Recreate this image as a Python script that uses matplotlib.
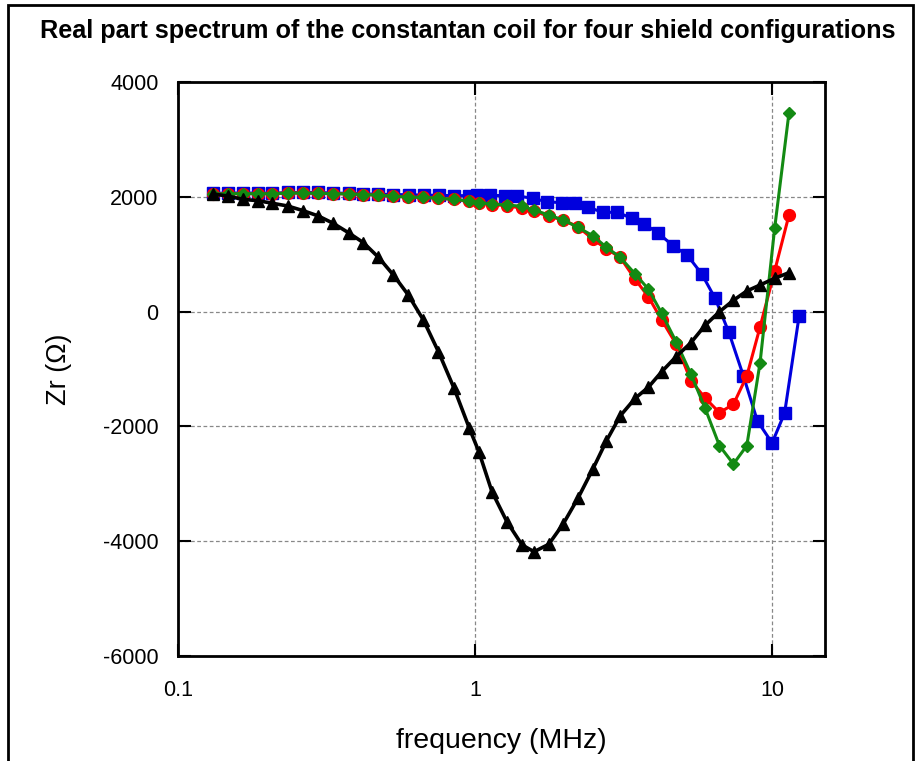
import matplotlib
matplotlib.use("Agg")
import matplotlib.pyplot as plt
from matplotlib.patches import Rectangle
from matplotlib.ticker import NullLocator

plt.rcParams["font.family"] = ["Liberation Sans", "DejaVu Sans"]
plt.rcParams["axes.unicode_minus"] = False

# frequencies (MHz) shared by the red, green and black series
freq = [0.131, 0.147, 0.165, 0.186, 0.208, 0.234, 0.264, 0.297, 0.333, 0.375,
        0.421, 0.473, 0.531, 0.596, 0.670, 0.753, 0.850, 0.957, 1.03, 1.14,
        1.28, 1.44, 1.58, 1.77, 1.98, 2.22, 2.49, 2.77, 3.08, 3.46,
        3.83, 4.25, 4.75, 5.33, 5.95, 6.65, 7.41, 8.22, 9.11, 10.2, 11.4]

# blue series was swept on slightly different frequencies
freq_blue = [0.131, 0.147, 0.165, 0.186, 0.208, 0.235, 0.264, 0.297, 0.333, 0.375,
             0.421, 0.473, 0.531, 0.598, 0.672, 0.755, 0.850, 0.957, 1.013, 1.123,
             1.262, 1.388, 1.564, 1.744, 1.958, 2.163, 2.407, 2.691, 3.014, 3.370,
             3.716, 4.142, 4.653, 5.186, 5.799, 6.429, 7.151, 8.006, 8.924, 10.0,
             11.02, 12.33]

zr_blue = [2060, 2065, 2065, 2065, 2060, 2075, 2075, 2075, 2065, 2060,
           2050, 2045, 2040, 2035, 2030, 2025, 2020, 2020, 2035, 2025,
           2020, 2015, 1974, 1914, 1897, 1887, 1817, 1730, 1730, 1625,
           1526, 1364, 1143, 981, 655, 232, -360, -1121, -1905, -2289,
           -1766, -77]

zr_red = [2050, 2055, 2055, 2055, 2055, 2065, 2065, 2060, 2055, 2050,
          2040, 2030, 2010, 1995, 1990, 1975, 1956, 1920, 1895, 1865,
          1845, 1800, 1750, 1660, 1596, 1479, 1265, 1091, 946, 563,
          260, -146, -564, -1204, -1505, -1761, -1615, -1122, -268, 707,
          1683]

zr_green = [2050, 2055, 2055, 2055, 2055, 2065, 2065, 2060, 2055, 2050,
            2040, 2030, 2010, 1995, 1990, 1975, 1956, 1925, 1900, 1874,
            1857, 1835, 1770, 1683, 1596, 1468, 1322, 1120, 946, 655,
            394, -30, -524, -1087, -1685, -2336, -2655, -2336, -890, 1451,
            3465]

zr_black = [2049, 2014, 1956, 1932, 1887, 1840, 1758, 1665, 1538, 1374,
            1200, 946, 638, 289, -146, -699, -1336, -2033, -2441, -3137,
            -3660, -4066, -4183, -4054, -3700, -3252, -2747, -2250, -1818, -1510,
            -1319, -1047, -786, -542, -239, -2, 197, 359, 463, 580,
            678]

fig = plt.figure(figsize=(9.15, 7.61), dpi=100)
ax = fig.add_axes([178 / 915, 1 - 656 / 761, (825 - 178) / 915, (656 - 82) / 761])

ax.plot(freq_blue, zr_blue, color="#0000dd", lw=2.2, marker="s", ms=8.5, zorder=3)
ax.plot(freq, zr_red, color="#ff0000", lw=2.2, marker="o", ms=8.5, zorder=4)
ax.plot(freq, zr_green, color="#138a13", lw=2.2, marker="D", ms=6.5, zorder=5)
ax.plot(freq, zr_black, color="black", lw=2.6, marker="^", ms=8.5, zorder=6)

ax.set_xscale("log")
ax.set_xlim(0.1, 15.07)
ax.set_ylim(-6000, 4000)
ax.set_xticks([0.1, 1, 10])
ax.set_xticklabels(["0.1", "1", "10"])
ax.xaxis.set_minor_locator(NullLocator())
ax.set_yticks([-6000, -4000, -2000, 0, 2000, 4000])

ax.tick_params(direction="in", length=9, width=1.5, top=True, right=True,
               labelsize=15.5, pad=14)
ax.tick_params(axis="x", pad=17)
for s in ax.spines.values():
    s.set_linewidth(2)

ax.grid(True, which="major", color="#888888", ls=(0, (3, 2)), lw=0.9)
ax.set_axisbelow(True)

ax.set_xlabel("frequency (MHz)", fontsize=20.5, labelpad=20)
ax.set_ylabel("Zr (\u03a9)", fontsize=19.5, labelpad=22)
fig.text(0.5 * (40 + 895) / 915, 1 - 31 / 761,
         "Real part spectrum of the constantan coil for four shield configurations",
         ha="center", va="center", fontsize=18.2, fontweight="bold")

# page frame around the figure
fig.patches.append(Rectangle((8 / 915, -0.1), (913 - 8) / 915, 1.1 - 5 / 761,
                             transform=fig.transFigure, fill=False,
                             edgecolor="black", lw=2))

fig.savefig("out.png", dpi=100)
